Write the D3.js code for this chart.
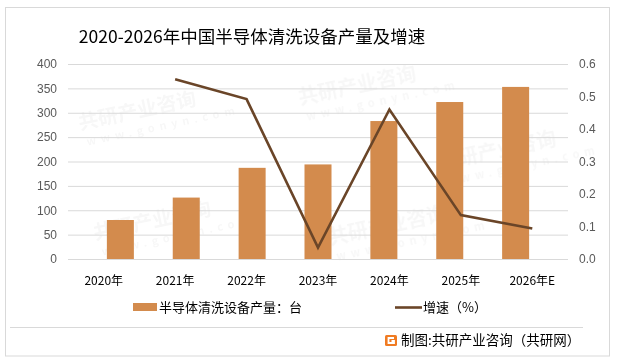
<!DOCTYPE html>
<html><head><meta charset="utf-8">
<script src="https://cdn.jsdelivr.net/npm/d3@7"></script>
<style>body{margin:0;background:#fff}svg{display:block}text{font-family:"Noto Sans CJK SC","Microsoft YaHei",sans-serif}</style>
</head><body><div id="c"></div>
<script>
const categories = ["2020年","2021年","2022年","2023年","2024年","2025年","2026年E"];
const production = [80,126,187,194,283,322,353];
const growth = [null,0.553,0.492,0.035,0.46,0.135,0.094];
const leftTicks = [0,50,100,150,200,250,300,350,400];
const rightTicks = [0,0.1,0.2,0.3,0.4,0.5,0.6];
const title = "2020-2026年中国半导体清洗设备产量及增速";
const legendBar = "半导体清洗设备产量：台";
const legendLine = "增速（%）";
const source = "制图:共研产业咨询（共研网）";

const W=617,H=362;
const svg=d3.select("#c").append("svg").attr("width",W).attr("height",H);
svg.append("rect").attr("x",5.5).attr("y",7.5).attr("width",604).attr("height",348.5).attr("fill","#fff").attr("stroke","#d9d9d9");

// faint watermarks
const wm=svg.append("g").attr("fill","#000").attr("opacity",0.035).style("font-weight","bold");
[[80,130],[300,105],[95,240],[330,245],[440,170]].forEach(([x,y])=>{
  const g=wm.append("g").attr("transform",`translate(${x},${y}) rotate(-12)`);
  g.append("text").attr("font-size",20).text("共研产业咨询");
  g.append("text").attr("y",17).attr("x",4).attr("font-size",11).attr("letter-spacing",5).text("www.gonyn.com");
});

const x0=68,x1=568,yTop=64,yBot=259;
const x=d3.scaleBand().domain(categories).range([x0,x1]).padding(0.59);
const xb=d3.scaleBand().domain(categories).range([x0,x1]);
const yL=d3.scaleLinear().domain([0,400]).range([yBot,yTop]);
const yR=d3.scaleLinear().domain([0,0.6]).range([yBot,yTop]);

// grid
svg.append("g").selectAll("line").data(leftTicks).join("line")
 .attr("x1",x0).attr("x2",x1).attr("y1",d=>yL(d)+0.5).attr("y2",d=>yL(d)+0.5)
 .attr("stroke","#d9d9d9").attr("stroke-width",1);

// axis labels
const gl=svg.append("g").attr("transform",`translate(${x0},0)`).call(d3.axisLeft(yL).tickValues(leftTicks).tickSize(0).tickPadding(11));
gl.select(".domain").remove();
gl.selectAll("text").attr("font-size",12).attr("fill","#595959").style("font-family","Arial, 'Liberation Sans', sans-serif");
const gr=svg.append("g").attr("transform",`translate(${x1},0)`).call(d3.axisRight(yR).tickValues(rightTicks).tickFormat(d3.format(".1f")).tickSize(0).tickPadding(11));
gr.select(".domain").remove();
gr.selectAll("text").attr("font-size",12).attr("fill","#595959").style("font-family","Arial, 'Liberation Sans', sans-serif");

// bars
svg.append("g").selectAll("rect").data(production).join("rect")
 .attr("x",(d,i)=>x(categories[i])).attr("width",x.bandwidth())
 .attr("y",d=>yL(d)).attr("height",d=>yBot-yL(d)).attr("fill","#d38b4d");

// line
const pts=growth.map((g,i)=>[categories[i],g]).filter(p=>p[1]!==null);
svg.append("path").datum(pts).attr("fill","none").attr("stroke","#6a4528").attr("stroke-width",2.6)
 .attr("d",d3.line().x(p=>xb(p[0])+xb.bandwidth()/2).y(p=>yR(p[1])));

// x labels
const gx=svg.append("g").attr("transform",`translate(0,${yBot})`).call(d3.axisBottom(xb).tickSize(0).tickPadding(17));
gx.select(".domain").remove();
gx.selectAll("text").attr("font-size",12).attr("fill","#000");

// title
svg.append("text").attr("x",252).attr("y",43).attr("text-anchor","middle").attr("font-size",17.5).attr("fill","#000").text(title);

// legend
svg.append("rect").attr("x",133).attr("y",303).attr("width",24).attr("height",8).attr("fill","#d38b4d");
svg.append("text").attr("x",159).attr("y",312).attr("font-size",13).attr("fill","#000").text(legendBar);
svg.append("line").attr("x1",395).attr("x2",422).attr("y1",307.5).attr("y2",307.5).attr("stroke","#6a4528").attr("stroke-width",2.6);
svg.append("text").attr("x",423).attr("y",312).attr("font-size",13).attr("fill","#000").text(legendLine);

// separator
svg.append("line").attr("x1",10).attr("x2",583).attr("y1",327.5).attr("y2",327.5).attr("stroke","#d9d9d9");

// source icon
const ic=svg.append("g").attr("transform","translate(385,335)");
ic.append("rect").attr("width",12).attr("height",11).attr("rx",1.5).attr("fill","#f07b22");
ic.append("path").attr("d","M9,3 H3.5 V8 H9 V6 H6.5").attr("fill","none").attr("stroke","#fff").attr("stroke-width",1.8);
svg.append("text").attr("x",401).attr("y",345).attr("font-size",13.5).attr("fill","#000").text(source);
</script></body></html>
